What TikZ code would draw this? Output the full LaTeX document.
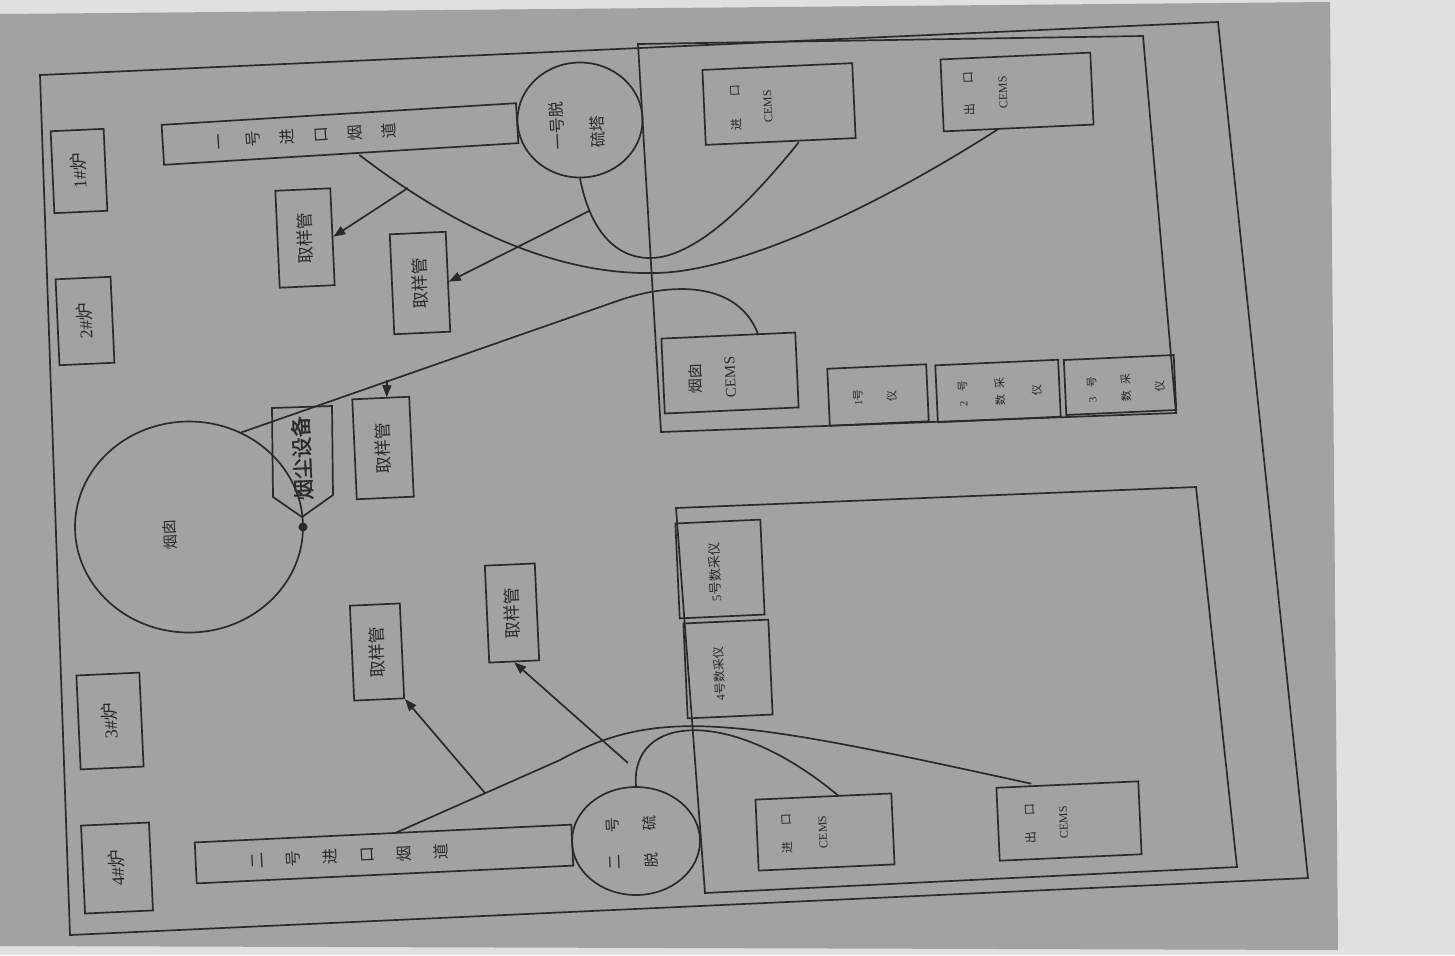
\documentclass[tikz,border=0pt]{standalone}
\usepackage{fontspec}
\setmainfont{Liberation Serif}
\newfontfamily\cjk{Noto Sans CJK SC}
\newfontfamily\cjkb[FakeBold=1.5]{Noto Sans CJK SC}
\usetikzlibrary{shapes.geometric,arrows.meta,calc}
\definecolor{paper}{RGB}{162,162,159}
\definecolor{outside}{RGB}{224,224,222}
\definecolor{ink}{RGB}{42,42,42}
\begin{document}
\begin{tikzpicture}[x=0.5pt,y=-0.5pt,
  every node/.style={text=ink},
  ln/.style={draw=ink,line width=0.85pt},
  bxbase/.style={ln,rectangle,inner sep=0pt},
  bx/.style={bxbase,rotate=92.6},
  rt/.style={rotate=92.6,inner sep=0pt,align=center},
  smp/.style={bx,font=\cjk\fontsize{8.5}{10}\selectfont},
  arr/.style={ln,-{Triangle[length=6pt,width=4.5pt]}}]

% background (photo of the page)
\fill[outside] (0,0) rectangle (1455,955);
\fill[paper] (0,14) -- (1330,2) -- (1338,950) -- (0,946) -- cycle;
\useasboundingbox (0,0) rectangle (1455,955);

% frames
\draw[ln] (40,75) -- (1218,22) -- (1308,878) -- (70,935) -- cycle;
\draw[ln] (638,44) -- (1143,36) -- (1176,413) -- (661,432) -- cycle;
\draw[ln] (676,508) -- (1196,487) -- (1237,867) -- (705,893) -- cycle;

% furnaces
\node[bx,minimum width=41pt,minimum height=26.5pt,font=\cjk\fontsize{9}{10}\selectfont] (f1) at (79,171) {{\rmfamily 1\#}炉};
\node[bx,minimum width=43pt,minimum height=27.5pt,font=\cjk\fontsize{9}{10}\selectfont] (f2) at (85,321) {{\rmfamily 2\#}炉};
\node[bx,minimum width=47pt,minimum height=31.5pt,font=\cjk\fontsize{9}{10}\selectfont] (f3) at (110,721) {{\rmfamily 3\#}炉};
\node[bx,minimum width=44pt,minimum height=34pt,font=\cjk\fontsize{9}{10}\selectfont] (f4) at (117,868) {{\rmfamily 4\#}炉};

% chimney
\node[ln,ellipse,minimum width=114pt,minimum height=105.5pt,inner sep=0pt] (chim) at (189,527) {};
\node[rt,font=\cjk\fontsize{7.5}{9}\selectfont] (chimt) at (170,535) {烟囱};

% dust device
\draw[ln] (272,408) -- (332,406) -- (333,495) -- (302,517) -- (273,497) -- cycle;
\node[rt,font=\cjkb\fontsize{10.5}{13}\selectfont] (dust) at (302,458) {烟尘设备};
\node[circle,fill=ink,inner sep=0pt,minimum size=4.5pt] (dot) at (303,527) {};

% sampling pipes
\node[smp,minimum width=48.5pt,minimum height=27.5pt] (sa) at (305,238) {取样管};
\node[smp,minimum width=50pt,minimum height=28pt] (sb) at (420,283) {取样管};
\node[smp,minimum width=50pt,minimum height=28.5pt] (sc) at (383,448) {取样管};
\node[smp,minimum width=47.5pt,minimum height=25pt] (sd) at (377,652) {取样管};
\node[smp,minimum width=48.5pt,minimum height=25pt] (se) at (512,613) {取样管};

% flues
\node[bxbase,rotate=93.5,minimum width=20pt,minimum height=177.5pt] (flue1) at (340,134) {};
\node[rotate=93.5,inner sep=0pt,align=center,font=\cjk\fontsize{8}{17}\selectfont] (flue1t) at (307,136) {一\\号\\进\\口\\烟\\道};
\node[bxbase,rotate=92.7,minimum width=20.5pt,minimum height=188.5pt] (flue2) at (384,854) {};
\node[rotate=92.7,inner sep=0pt,align=center,font=\cjk\fontsize{8}{18.5}\selectfont] (flue2t) at (350,856) {二\\号\\进\\口\\烟\\道};

% desulfurisation towers
\node[ln,ellipse,minimum width=62.5pt,minimum height=57.5pt,inner sep=0pt] (t1) at (580,120) {};
\node[rt,align=left,font=\cjk\fontsize{8}{20}\selectfont] (t1t) at (577,125) {一号脱\\硫塔};
\node[ln,ellipse,minimum width=64pt,minimum height=54pt,inner sep=0pt] (t2) at (636,841) {};
\node[rt,font=\cjk\fontsize{7.5}{18.5}\selectfont] (t2t) at (632,843) {二\hspace{11pt}号\\脱\hspace{11pt}硫};

% CEMS and data units, upper room
\node[bx,minimum width=37.5pt,minimum height=75pt] (cin1) at (779,104) {};
\node[rt,font=\cjk\fontsize{6}{16}\selectfont] (cin1t) at (751,107) {进\hspace{11pt}口\\{\rmfamily CEMS}};
\node[bx,minimum width=36pt,minimum height=75pt] (cout1) at (1017,92) {};
\node[rt,font=\cjk\fontsize{6}{17}\selectfont] (cout1t) at (985,93) {出\hspace{10pt}口\\{\rmfamily CEMS}};
\node[bx,minimum width=37.5pt,minimum height=67pt] (cchim) at (730,373) {};
\node[rt,font=\cjk\fontsize{7.5}{17}\selectfont] (cchimt) at (712,378) {烟囱\\{\rmfamily CEMS}};
\node[bx,minimum width=28.5pt,minimum height=49.5pt] (d1) at (878,395) {};
\node[rt,font=\cjk\fontsize{5.5}{17}\selectfont] (d1t) at (875,397) {{\rmfamily 1}号\\仪};
\node[bx,minimum width=28.5pt,minimum height=61.5pt] (d2) at (998,391) {};
\node[rt,font=\cjk\fontsize{5.5}{18.5}\selectfont] (d2t) at (1000,392) {{\rmfamily 2}\hspace{5pt}号\\数\hspace{3pt}采\\仪};
\node[bx,minimum width=27.5pt,minimum height=55pt] (d3) at (1120,385) {};
\node[rt,font=\cjk\fontsize{5.5}{17}\selectfont] (d3t) at (1126,388) {{\rmfamily 3}\hspace{5pt}号\\数\hspace{3pt}采\\仪};

% lower room
\node[bx,minimum width=47.5pt,minimum height=42.5pt] (d5) at (720,569) {};
\node[rt,font=\cjk\fontsize{6.5}{8}\selectfont] (d5t) at (715,572) {{\rmfamily 5}号数采仪};
\node[bx,minimum width=47.5pt,minimum height=42.5pt] (d4) at (728,669) {};
\node[rt,font=\cjk\fontsize{6}{8}\selectfont] (d4t) at (719,674) {{\rmfamily 4}号数采仪};
\node[bx,minimum width=35.5pt,minimum height=68pt] (cin2) at (825,832) {};
\node[rt,font=\cjk\fontsize{6}{18}\selectfont] (cin2t) at (804,833) {进\hspace{8pt}口\\{\rmfamily CEMS}};
\node[bx,minimum width=36.5pt,minimum height=71pt] (cout2) at (1069,821) {};
\node[rt,font=\cjk\fontsize{6}{16.5}\selectfont] (cout2t) at (1046,823) {出\hspace{8pt}口\\{\rmfamily CEMS}};

% branch points
\coordinate (b1) at (408,188);
\coordinate (b2) at (589,211);
\coordinate (b3) at (387,380);
\coordinate (b4) at (485,793);
\coordinate (b5) at (628,763);

% connectors
\draw[ln] ([xshift=9pt]flue1.west) .. controls (470,240) and (570,275) .. (655,273)
  .. controls (740,272) and (880,205) .. ([xshift=-10pt]cout1.west);
\draw[ln] (t1.south) .. controls (590,230) and (615,258) .. (650,258)
  .. controls (700,258) and (760,190) .. ([xshift=9pt]cin1.west);
\draw[ln] (chim.61) -- (620,300) .. controls (680,280) and (740,285) .. ([xshift=15pt]cchim.east);
\draw[ln] ([xshift=6.5pt]flue2.east) -- (560,760) .. controls (660,705) and (740,720) .. ([xshift=-18pt]cout2.east);
\draw[ln] (t2.north) .. controls (630,715) and (730,705) .. ([xshift=7.5pt]cin2.east);

% arrows to sampling pipes
\draw[arr] (b1) -- (sa.south);
\draw[arr] (b2) -- (sb.south);
\draw[arr] (b3) -- ([xshift=3pt]sc.east);
\draw[arr] (b4) -- (sd.south west);
\draw[arr] (b5) -- (se.west);
\end{tikzpicture}
\end{document}
